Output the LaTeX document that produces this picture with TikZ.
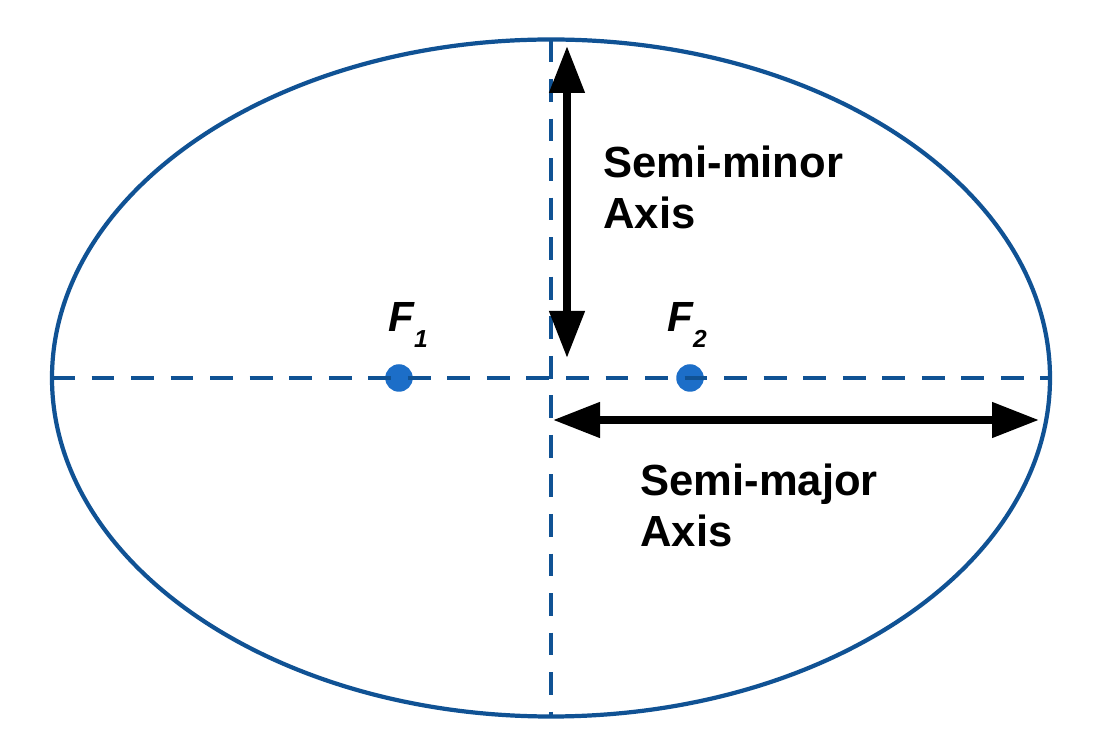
\documentclass[tikz,border=0pt]{standalone}
\usepackage{fontspec}
\setmainfont{Liberation Sans}
\usetikzlibrary{arrows.meta}
\definecolor{orbitblue}{RGB}{16,82,148}
\definecolor{focusblue}{RGB}{28,110,200}

\begin{document}
\begin{tikzpicture}
  \tikzstyle{orbit} = [draw=orbitblue, line width=2.4pt]
  \tikzstyle{axisline} = [orbitblue, line width=2.2pt, dash pattern=on 13pt off 9.5pt]
  \tikzstyle{focus} = [circle, fill=focusblue, inner sep=0pt, minimum size=0.55cm]
  \tikzstyle{len} = [line width=4.4pt, {Triangle[length=0.94cm,width=0.68cm]}-{Triangle[length=0.94cm,width=0.68cm]}]
  \tikzstyle{lbl} = [font=\bfseries\fontsize{24.8pt}{29.5pt}\selectfont, align=left, anchor=base west, inner sep=0pt]
  \tikzstyle{flbl} = [font=\bfseries\itshape\fontsize{24pt}{24pt}\selectfont, anchor=base west, inner sep=0pt]

  \useasboundingbox (-11.02,-7.40) rectangle (10.92,7.56);
  \fill[white] (-11.02,-7.40) rectangle (10.92,7.56);

  \coordinate (c) at (0,0);
  \coordinate (west) at (-9.98,0);
  \coordinate (east) at (9.98,0);
  \coordinate (north) at (0,6.77);
  \coordinate (south) at (0,-6.77);

  \draw[orbit] (c) ellipse (9.98 and 6.77);

  \node[focus](f1) at (-3.04,0){};
  \node[focus](f2) at (2.78,0){};

  \draw[axisline](west)--(east);
  \draw[axisline](north)--(south);

  \coordinate (mtop) at (0.32,6.64);
  \coordinate (mbot) at (0.32,0.4);
  \coordinate (jleft) at (0.04,-0.84);
  \coordinate (jright) at (9.76,-0.84);

  \draw[len](mtop)--(mbot);
  \draw[len](jleft)--(jright);

  % base anchor sits on the last line
  \node[lbl](minor) at (1.04,2.98){Semi-minor\\Axis};
  \node[lbl](major) at (1.78,-3.38){Semi-major\\Axis};

  \node[flbl](f1lbl) at (-3.26,0.92){F\raisebox{-0.32cm}{\fontsize{14pt}{14pt}\selectfont 1}};
  \node[flbl](f2lbl) at (2.32,0.92){F\raisebox{-0.32cm}{\fontsize{14pt}{14pt}\selectfont 2}};
\end{tikzpicture}
\end{document}
